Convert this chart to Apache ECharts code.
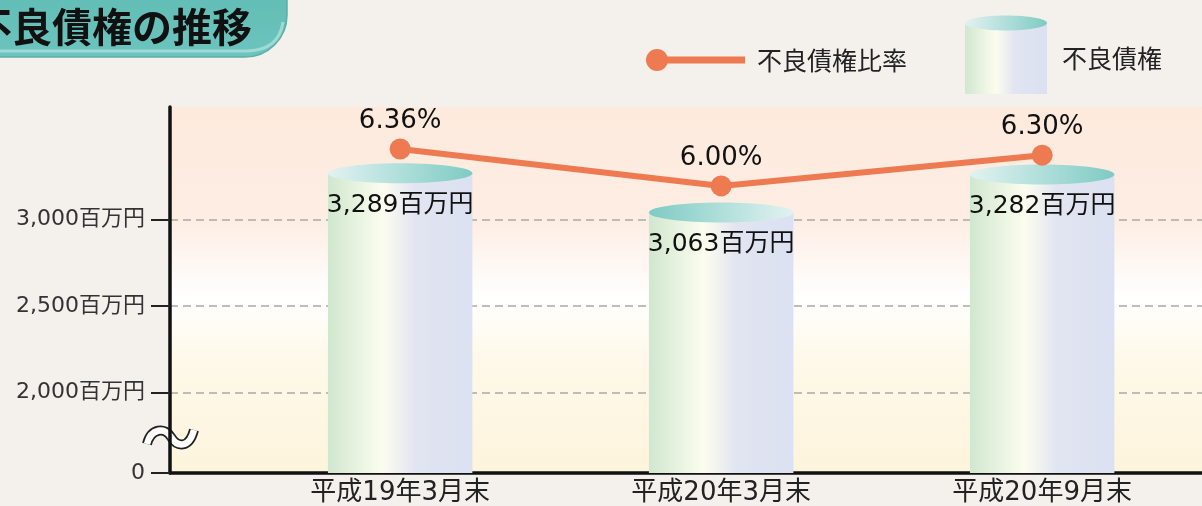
<!DOCTYPE html>
<html>
<head>
<meta charset="utf-8">
<script src="https://cdn.jsdelivr.net/npm/echarts@6/dist/echarts.min.js"></script>
<style>
html, body { margin: 0; padding: 0; background: #f4f1ed; }
#main { width: 1202px; height: 506px; }
</style>
</head>
<body>
<div id="main"></div>
<script>
// 不良債権の推移
var categories = ['平成19年3月末', '平成20年3月末', '平成20年9月末'];
var badLoans = [3289, 3063, 3282];        // 不良債権（百万円）
var badLoanRatio = [6.36, 6.00, 6.30];    // 不良債権比率（%）
var yTicks = [0, 2000, 2500, 3000];       // 縦軸目盛（百万円）

var NUM_FONT = "'DejaVu Sans','Noto Sans CJK JP',sans-serif";
var JP_FONT = "'Noto Sans CJK JP',sans-serif";

// 0〜2,000 は省略（波線）して圧縮する
var BREAK_AT = 2000, BREAK_H = 463;
function toAxis(v) {
    return v >= BREAK_AT ? v - BREAK_AT + BREAK_H : v * BREAK_H / BREAK_AT;
}
function fromAxis(a) {
    return a >= BREAK_H - 0.5 ? Math.round(a - BREAK_H + BREAK_AT) : Math.round(a * BREAK_AT / BREAK_H);
}
function comma(n) {
    return String(n).replace(/\B(?=(\d{3})+(?!\d))/g, ',');
}

var bodyGrad = new echarts.graphic.LinearGradient(0, 0, 1, 0, [
    {offset: 0, color: '#d1e7cf'},
    {offset: 0.38, color: '#fcfdef'},
    {offset: 0.6, color: '#e2e5f1'},
    {offset: 1, color: '#dbe1f2'}
]);
var capGrad = new echarts.graphic.LinearGradient(0, 0, 1, 0, [
    {offset: 0, color: '#e2f2f1'},
    {offset: 1, color: '#7ecbc4'}
]);
var capGradRev = new echarts.graphic.LinearGradient(0, 0, 1, 0, [
    {offset: 0, color: '#7ecbc4'},
    {offset: 1, color: '#e2f2f1'}
]);

function renderCylinder(params, api) {
    var x = api.value(0);
    var top = api.coord([x, api.value(1)]);
    var base = api.coord([x, 0]);
    var w = api.size([0.45, 0])[0];
    var cy = top[1] + 4;
    return {
        type: 'group',
        children: [
            {
                type: 'rect',
                shape: {x: top[0] - w / 2, y: cy, width: w, height: base[1] - cy},
                style: {fill: bodyGrad}
            },
            {
                type: 'ellipse',
                shape: {cx: top[0], cy: cy, rx: w / 2, ry: 10},
                style: {fill: params.dataIndex === 1 ? capGradRev : capGrad}
            },
            {
                type: 'text',
                style: {
                    x: top[0], y: top[1] + 36,
                    text: comma(api.value(2)) + '百万円',
                    align: 'center', verticalAlign: 'middle',
                    fontSize: 25, fontFamily: NUM_FONT, fill: '#111'
                }
            }
        ]
    };
}

// 波線（二本のベジェ曲線）
function wave(color, width) {
    return [
        {type: 'bezierCurve', shape: {x1: 147, y1: 444, cpx1: 151, cpy1: 428, cpx2: 165, cpy2: 427, x2: 171, y2: 437},
            style: {fill: null, stroke: color, lineWidth: width}},
        {type: 'bezierCurve', shape: {x1: 171, y1: 437, cpx1: 177, cpy1: 447, cpx2: 189, cpy2: 449, x2: 194, y2: 430},
            style: {fill: null, stroke: color, lineWidth: width}}
    ];
}

var chart = echarts.init(document.getElementById('main'));
chart.setOption({
    animation: false,
    backgroundColor: '#f4f1ed',
    grid: {
        left: 170, right: 0, top: 107, bottom: 32,
        show: true, borderWidth: 0,
        backgroundColor: new echarts.graphic.LinearGradient(0, 0, 0, 1, [
            {offset: 0, color: '#fdeadd'},
            {offset: 0.3, color: '#fdede3'},
            {offset: 0.52, color: '#ffffff'},
            {offset: 0.68, color: '#fef9ea'},
            {offset: 1, color: '#fdf4dc'}
        ])
    },
    xAxis: {
        type: 'value', min: 0.283, max: 3.498,
        axisLine: {show: true, onZero: false, lineStyle: {color: '#111', width: 3.5}},
        axisTick: {show: false},
        splitLine: {show: false},
        axisLabel: {
            customValues: categories.map(function (c, i) { return i + 1; }),
            formatter: function (v) { return categories[Math.round(v) - 1]; },
            margin: 7, fontSize: 26, color: '#222', fontFamily: NUM_FONT
        }
    },
    yAxis: [
        {
            type: 'value', min: 0, max: 2111,
            axisLine: {show: true, onZero: false, lineStyle: {color: '#111', width: 3.5}},
            axisTick: {
                show: true, length: 19,
                customValues: yTicks.map(toAxis),
                lineStyle: {color: '#222', width: 2}
            },
            axisLabel: {
                customValues: yTicks.map(toAxis),
                formatter: function (v) {
                    var n = fromAxis(v);
                    return n === 0 ? '0' : comma(n) + '百万円';
                },
                margin: 25, fontSize: 22, color: '#333', fontFamily: NUM_FONT
            },
            splitLine: {show: true, lineStyle: {type: [8, 5], color: '#a9a9a9', width: 1.5}}
        },
        {
            type: 'value', min: 3.2, max: 6.77, show: false
        }
    ],
    series: [
        {
            name: '不良債権',
            type: 'custom',
            renderItem: renderCylinder,
            data: badLoans.map(function (v, i) { return [i + 1, toAxis(v), v]; }),
            z: 2
        },
        {
            name: '不良債権比率',
            type: 'line',
            yAxisIndex: 1,
            data: badLoanRatio.map(function (v, i) { return [i + 1, v]; }),
            symbol: 'circle', symbolSize: 21,
            lineStyle: {color: '#ee7a52', width: 6},
            itemStyle: {color: '#ee7a52'},
            label: {
                show: true, position: 'top', distance: 4,
                formatter: function (p) { return p.value[1].toFixed(2) + '%'; },
                fontSize: 26, color: '#111', fontFamily: NUM_FONT
            },
            z: 5
        }
    ],
    graphic: [
        // タイトル帯
        {
            type: 'group', z: 50,
            children: [
                {
                    type: 'rect',
                    shape: {x: -40, y: -40, width: 327, height: 97, r: [0, 42, 42, 0]},
                    style: {
                        fill: new echarts.graphic.LinearGradient(0, 0, 0, 1, [
                            {offset: 0, color: '#5cbab2'},
                            {offset: 1, color: '#6cc4bd'}
                        ]),
                        stroke: '#59b0a8', lineWidth: 1.5
                    }
                },
                {
                    type: 'line',
                    shape: {x1: -40, y1: 51, x2: 248, y2: 51},
                    style: {stroke: '#9fdad4', lineWidth: 3}
                },
                {
                    type: 'bezierCurve',
                    shape: {x1: 248, y1: 51, cpx1: 279, cpy1: 50, x2: 283, y2: 22},
                    style: {fill: null, stroke: '#9fdad4', lineWidth: 3}
                },
                {
                    type: 'text',
                    style: {
                        x: -28, y: 27, text: '不良債権の推移',
                        verticalAlign: 'middle',
                        fontSize: 40, fontWeight: 'bold', fontFamily: JP_FONT, fill: '#111'
                    }
                }
            ]
        },
        // 凡例：不良債権比率
        {
            type: 'group', z: 50,
            children: [
                {type: 'line', shape: {x1: 657, y1: 60, x2: 745, y2: 60}, style: {stroke: '#ee7a52', lineWidth: 7}},
                {type: 'circle', shape: {cx: 657, cy: 60, r: 11}, style: {fill: '#ee7a52'}},
                {
                    type: 'text',
                    style: {x: 757, y: 60, text: '不良債権比率', verticalAlign: 'middle',
                        fontSize: 25, fontFamily: JP_FONT, fill: '#222'}
                }
            ]
        },
        // 凡例：不良債権
        {
            type: 'group', z: 50,
            children: [
                {type: 'rect', shape: {x: 965, y: 23, width: 82, height: 71}, style: {fill: bodyGrad}},
                {type: 'ellipse', shape: {cx: 1006, cy: 23, rx: 41, ry: 7.5}, style: {fill: capGrad}},
                {
                    type: 'text',
                    style: {x: 1062, y: 58, text: '不良債権', verticalAlign: 'middle',
                        fontSize: 25, fontFamily: JP_FONT, fill: '#222'}
                }
            ]
        },
        // 省略記号（波線）
        {
            type: 'group', z: 60,
            children: wave('#222', 10).concat(wave('#ffffff', 6.5))
        }
    ]
});
</script>
</body>
</html>
